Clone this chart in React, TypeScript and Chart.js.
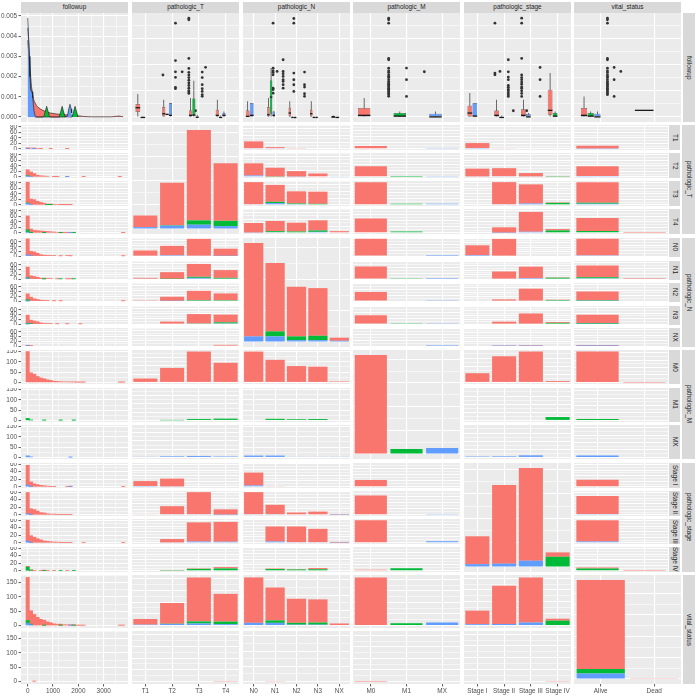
import React, { useEffect, useRef } from "react";
import { Chart, registerables } from "chart.js";

Chart.register(...registerables);

/* ================= categories ================= */
const varLabels = ["followup", "pathologic_T", "pathologic_N", "pathologic_M", "pathologic_stage", "vital_status"];
const levT = ["T1", "T2", "T3", "T4"];
const levN = ["N0", "N1", "N2", "N3", "NX"];
const levM = ["M0", "M1", "MX"];
const levS = ["Stage I", "Stage II", "Stage III", "Stage IV"];
const levV = ["Alive", "Dead"];
const mColors = ["#F8766D", "#00BA38", "#619CFF"];

/* ================= cross tabulations (counts split by M0 / M1 / MX) ================= */
// rows T1..T4, cols N0..NX
const tnM0 = [[20, 3, 1, 0, 0], [36, 26, 16, 10, 0], [65, 50, 36, 36, 0], [28, 30, 26, 30, 5]];
const tnM1 = [[0, 0, 0, 0, 0], [0, 1, 0, 0, 0], [0, 4, 2, 3, 0], [0, 3, 4, 4, 0]];
const tnMX = [[2, 2, 0, 0, 0], [4, 0, 1, 0, 2], [2, 5, 2, 0, 0], [1, 2, 0, 3, 0]];
// rows T1..T4, cols Stage I..IV
const tsM0 = [[22, 2, 0, 0], [35, 36, 15, 1], [0, 99, 86, 2], [0, 24, 89, 6]];
const tsM1 = [[0, 0, 0, 0], [0, 0, 0, 1], [0, 0, 0, 9], [0, 0, 0, 11]];
const tsMX = [[4, 0, 0, 0], [2, 3, 2, 0], [0, 3, 6, 0], [0, 1, 5, 0]];
// rows N0..NX, cols Stage I..IV
const nsM0 = [[55, 94, 0, 0], [3, 40, 64, 2], [0, 10, 67, 2], [0, 14, 57, 5], [0, 2, 3, 0]];
const nsM1 = [[0, 0, 0, 0], [0, 0, 0, 8], [0, 0, 0, 6], [0, 0, 0, 7], [0, 0, 0, 0]];
const nsMX = [[6, 3, 0, 0], [0, 3, 6, 0], [0, 0, 3, 0], [0, 0, 3, 0], [0, 1, 1, 0]];
// the single deceased patient
const deadT = "T4";
const deadN = "N1";
const deadM = "M0";
const deadS = "Stage IV";
const deadCount = 1;
const deadFollowup = 279;

/* ================= followup histograms (bins of 130 centred on 0,130,...) ================= */
const binWidth = 130;
const nBins = 30;
const histT_M0 = [
  [3, 3, 2, 2, 1, 0, 0, 1, 0, 0, 0, 0, 1],
  [22, 16, 12, 6, 4, 3, 2, 0, 1, 1, 0, 0, 1, 0, 0, 0, 0, 1, 0, 0, 0, 0, 0, 0, 0, 0, 0, 0, 1],
  [76, 19, 19, 13, 9, 6, 2, 2, 2, 2, 1, 1, 1, 1],
  [51, 13, 9, 8, 7, 5, 5, 4, 3, 2, 1, 1, 1, 1, 1, 0, 0, 0, 0, 0, 0, 0, 0, 0, 0, 0, 0, 0, 0, 1],
];
const histT_M1 = [[], [1], [2, 0, 0, 0, 0, 0, 1, 1], [8, 1, 0, 0, 0, 1, 0, 0, 0, 0, 1, 0, 0, 0, 1]];
const histT_MX = [[1, 0, 1], [3, 2, 0, 0, 0, 0, 0, 0, 0, 0, 0, 0, 1], [5, 2], [3, 0, 0, 0, 0, 0, 0, 0, 0, 0, 0, 0, 0, 1]];
const histN_M0 = [
  [68, 18, 18, 12, 6, 4, 3, 2, 2, 0, 1, 0, 2, 1, 0, 0, 0, 0, 0, 0, 0, 0, 0, 0, 0, 0, 0, 0, 0, 1],
  [45, 14, 11, 8, 4, 3, 2, 2, 0, 1, 0, 0, 1, 1],
  [25, 17, 10, 7, 4, 3, 2, 0, 1, 0, 1, 0, 0, 0, 0, 0, 0, 0, 0, 0, 0, 0, 0, 0, 0, 0, 0, 0, 0, 1],
  [34, 15, 13, 10, 5, 3, 2, 2, 0, 1, 0, 0, 1, 0, 0, 0, 1],
  [2, 3],
];
const histN_M1 = [[], [2, 0, 0, 0, 0, 1, 0, 0, 0, 0, 1, 0, 0, 0, 1], [5], [3, 2], []];
const histN_MX = [[5, 2], [4], [1], [1], [2]];
const histS_M0 = [
  [52, 12, 8, 6, 4, 3, 2, 1, 1, 0, 0, 0, 1, 1, 0, 0, 0, 0, 0, 0, 0, 0, 0, 0, 0, 0, 0, 0, 0, 1],
  [56, 15, 14, 10, 6, 5, 3, 2, 2, 1, 1, 1, 1, 1],
  [55, 18, 15, 11, 8, 5, 4, 3, 2, 2, 1, 1, 1, 1, 0, 0, 0, 1, 0, 0, 0, 0, 0, 0, 0, 0, 0, 0, 0, 1],
  [2, 1, 1, 0, 1, 1, 1, 0, 1, 0, 0, 0, 1],
];
const histS_M1 = [[], [], [], [10, 2, 0, 0, 0, 1, 0, 0, 0, 0, 1, 0, 0, 0, 1]];
const histS_MX = [[5, 1, 0, 0, 0, 0, 0, 0, 0, 0, 0, 0, 0, 1], [3, 1], [5, 1], []];
const histM0 = [150, 47, 40, 29, 22, 18, 13, 10, 6, 5, 4, 3, 3, 2, 2, 1, 1, 1, 0, 0, 0, 0, 0, 0, 0, 0, 0, 0, 1, 1];
const histM1 = [10, 2, 0, 0, 0, 1, 0, 0, 0, 0, 1, 0, 0, 0, 1];
const histMX = [8, 3, 0, 0, 0, 0, 0, 0, 0, 0, 0, 0, 0, 1];

/* ================= followup densities ================= */
const densX_M0 = [0, 50, 100, 150, 200, 250, 300, 350, 400, 500, 600, 750, 900, 1150, 1400, 1650, 1950, 2200, 2500, 3300, 3450, 3580, 3700, 3770];
const densY_M0 = [0.0044, 0.0036, 0.0023, 0.0015, 0.0011, 0.0008, 0.00068, 0.00057, 0.00049, 0.0004, 0.00033, 0.00025, 0.0002, 0.00015, 0.00012, 0.0001, 0.00007, 0.00003, 0.00001, 0.00001, 0.00003, 0.00005, 0.00003, 0.00002];
const densX_M1 = [0, 50, 100, 150, 200, 250, 300, 600, 650, 700, 750, 800, 850, 900, 1250, 1300, 1360, 1420, 1470, 1750, 1810, 1870, 1930, 1990];
const densY_M1 = [0.0038, 0.003, 0.0017, 0.0007, 0.0002, 0.00003, 0, 0, 0.00008, 0.0003, 0.00053, 0.0003, 0.00008, 0, 0, 0.00025, 0.00053, 0.00025, 0.00002, 0, 0.00025, 0.00053, 0.00025, 0];
const densX_MX = [0, 25, 60, 90, 120, 150, 175, 200, 225, 250, 290, 330, 400, 1500, 1570, 1620, 1670, 1720, 1736];
const densY_MX = [0.0049, 0.0043, 0.003, 0.002, 0.00135, 0.00125, 0.00125, 0.00095, 0.0006, 0.0003, 0.00007, 0.00001, 0, 0, 0.00005, 0.0004, 0.00063, 0.0004, 0.0002];

/* ================= followup boxplots: [lower, q1, median, q3, upper] ================= */
const boxT_M0 = [[0, 190, 380, 494, 880], [0, 25, 150, 380, 660], [0, 25, 90, 253, 720], [0, 25, 90, 280, 660]];
const boxT_M1 = [null, [127, 127, 127, 127, 127], [0, 50, 100, 710, 1380], [0, 0, 10, 30, 60]];
const boxT_MX = [[0, 0, 10, 20, 40], [0, 50, 90, 530, 530], [0, 0, 15, 40, 90], [0, 25, 90, 150, 215]];
const outT_M0 = [[1600], [1080, 1130, 1510, 1720, 2150, 3570], [900, 950, 1000, 1100, 1200, 1300, 1400, 1500, 1600, 1700, 1850, 2230, 3700, 3760], [790, 850, 975, 1080, 1230, 1500, 1710]];
const outT_M1 = [[], [], [], [1890]];
const outT_MX = [[], [1720], [240], []];

const boxN_M0 = [[0, 25, 50, 253, 600], [0, 25, 114, 380, 720], [0, 25, 177, 355, 600], [0, 25, 152, 280, 600], [0, 5, 20, 40, 60]];
const boxN_M1 = [null, [0, 127, 785, 1394, 1862], [0, 0, 10, 20, 30], [0, 0, 10, 20, 30], null];
const boxN_MX = [[0, 25, 90, 532, 532], [0, 25, 90, 215, 215], [0, 0, 5, 10, 10], [0, 0, 10, 20, 30], [0, 0, 10, 20, 30]];
const outN_M0 = [[910, 1040, 1100, 1610, 1700, 1760, 1860, 3573], [1100, 1230, 1355, 1420, 1546, 1650, 1736, 2180], [975, 1229, 1419, 1672, 3573, 3750], [790, 887, 1140, 1229, 1710], []];
const outN_M1 = [[], [], [], [], []];
const outN_MX = [[1736], [], [], [], []];

const boxM_M0 = [[0, 25, 90, 342, 722], null, null];
const boxM_M1 = [null, [0, 25, 60, 152, 215], null];
const boxM_MX = [null, null, [0, 0, 30, 127, 215]];
const outM_M0 = [[790, 850, 900, 950, 1000, 1050, 1100, 1150, 1200, 1250, 1300, 1350, 1420, 1500, 1550, 1610, 1700, 1760, 1860, 2180, 2230, 3573, 3700, 3763], [], []];
const outM_M1 = [[], [785, 1420, 1862], []];
const outM_MX = [[], [], [1723]];

const boxS_M0 = [[0, 25, 177, 430, 912], [0, 25, 90, 253, 660], [0, 25, 90, 300, 660], [0, 89, 279, 1039, 1672]];
const boxS_M1 = [null, null, null, [0, 0, 60, 152, 215]];
const boxS_MX = [[0, 0, 63, 532, 532], [0, 0, 10, 30, 60], [0, 0, 30, 114, 150], null];
const outS_M0 = [[1610, 1672, 3573], [785, 850, 920, 1000, 1050, 1130, 1200, 1420, 1520, 1720, 2180], [785, 900, 1000, 1100, 1150, 1250, 1330, 1420, 1500, 1600, 2230, 3573, 3763], []];
const outS_M1 = [[], [], [], [785, 1420, 1888]];
const outS_MX = [[1736], [240], [240], []];

const boxV_M0 = [[0, 25, 90, 342, 785], [279, 279, 279, 279, 279]];
const boxV_M1 = [[0, 25, 60, 152, 215], null];
const boxV_MX = [[0, 0, 30, 127, 215], null];
const outV_M0 = [[850, 900, 950, 1000, 1050, 1100, 1150, 1200, 1250, 1300, 1350, 1420, 1500, 1550, 1610, 1700, 1760, 1860, 2180, 2230, 3573, 3700, 3763], []];
const outV_M1 = [[785, 1420, 1888], []];
const outV_MX = [[1736], []];

/* ================= axis limits ================= */
const followupLim = [-264, 3960];
const boxLim = [-188.5, 3958.5];
const densLim = [-0.000245, 0.005145];

/* ================= derived tables ================= */
type Split = number[][][]; // [m][rowLevel][colLevel]
const LEVELS: Record<string, string[]> = { T: levT, N: levN, M: levM, S: levS, V: levV };
const KEYS = ["F", "T", "N", "M", "S", "V"];
const MI = [0, 1, 2];

const sum = (a: number[]) => a.reduce((p, q) => p + q, 0);
const transpose = (s: Split): Split => s.map((mat) => mat[0].map((_, j) => mat.map((row) => row[j])));
const rowSums = (s: Split) => s.map((mat) => mat.map((row) => sum(row)));
const colSums = (s: Split) => rowSums(transpose(s));
const nz = (v: number) => (v > 0 ? v : null);

const TN: Split = [tnM0, tnM1, tnMX];
const TS: Split = [tsM0, tsM1, tsMX];
const NS: Split = [nsM0, nsM1, nsMX];
const deadMi = levM.indexOf(deadM);
const deadLevel: Record<string, number> = {
  T: levT.indexOf(deadT), N: levN.indexOf(deadN), M: deadMi, S: levS.indexOf(deadS),
};
const margins: Record<string, number[][]> = {};
margins.T = rowSums(TN);
margins.N = colSums(TN);
margins.S = colSums(TS);
const mTot = margins.T.map((r) => sum(r));
margins.M = MI.map((m) => MI.map((j) => (j === m ? mTot[m] : 0)));
margins.V = MI.map((m) => [mTot[m] - (m === deadMi ? deadCount : 0), m === deadMi ? deadCount : 0]);

const withM = (marg: number[][]): Split => MI.map((m) => marg[m].map((v) => MI.map((j) => (j === m ? v : 0))));
const withV = (key: string): Split =>
  MI.map((m) => margins[key][m].map((v, a) => {
    const d = m === deadMi && a === deadLevel[key] ? deadCount : 0;
    return [v - d, d];
  }));
function pair(a: string, b: string): Split {
  const base: Record<string, () => Split> = {
    TN: () => TN, TS: () => TS, NS: () => NS,
    TM: () => withM(margins.T), NM: () => withM(margins.N), SM: () => withM(margins.S),
    TV: () => withV("T"), NV: () => withV("N"), MV: () => withV("M"), SV: () => withV("S"),
  };
  if (base[a + b]) return base[a + b]();
  return transpose(base[b + a]());
}
const pad = (a: number[]) => Array.from({ length: nBins }, (_, k) => a[k] ?? 0);
function histFacets(key: string): number[][][] {
  if (key === "T") return levT.map((_, i) => [pad(histT_M0[i]), pad(histT_M1[i]), pad(histT_MX[i])]);
  if (key === "N") return levN.map((_, i) => [pad(histN_M0[i]), pad(histN_M1[i]), pad(histN_MX[i])]);
  if (key === "S") return levS.map((_, i) => [pad(histS_M0[i]), pad(histS_M1[i]), pad(histS_MX[i])]);
  const hm = [pad(histM0), pad(histM1), pad(histMX)];
  if (key === "M") return MI.map((j) => MI.map((m) => (m === j ? hm[m] : pad([]))));
  const deadBin = Math.round(deadFollowup / binWidth);
  const deadArr = pad([]).map((_, k) => (k === deadBin ? deadCount : 0));
  const alive = hm.map((arr, m) => (m === deadMi ? arr.map((v, k) => v - deadArr[k]) : arr));
  const dead = MI.map((m) => (m === deadMi ? deadArr : pad([])));
  return [alive, dead];
}
const BOX: Record<string, any[][]> = {
  T: [boxT_M0, boxT_M1, boxT_MX], N: [boxN_M0, boxN_M1, boxN_MX], M: [boxM_M0, boxM_M1, boxM_MX],
  S: [boxS_M0, boxS_M1, boxS_MX], V: [boxV_M0, boxV_M1, boxV_MX],
};
const OUT: Record<string, number[][][]> = {
  T: [outT_M0, outT_M1, outT_MX], N: [outN_M0, outN_M1, outN_MX], M: [outM_M0, outM_M1, outM_MX],
  S: [outS_M0, outS_M1, outS_MX], V: [outV_M0, outV_M1, outV_MX],
};

/* ================= chart helpers ================= */
const FONT = '"Liberation Sans", Arial, Helvetica, sans-serif';
const PANEL_BG = "#EBEBEB";
const STRIP_BG = "#D9D9D9";
const TICK_FONT = { family: FONT, size: 6.4 };

const bgPlugin = {
  id: "panelBg",
  beforeDraw(chart: any) {
    const { ctx, chartArea: a } = chart;
    ctx.save();
    ctx.fillStyle = PANEL_BG;
    ctx.fillRect(a.left, a.top, a.right - a.left, a.bottom - a.top);
    ctx.restore();
  },
};

function breaksFor(lo: number, hi: number) {
  const span = hi - lo;
  const Q = [1, 5, 2, 2.5];
  let best = 1;
  let bestScore = Infinity;
  const e0 = Math.floor(Math.log10(span));
  for (let e = e0 - 2; e <= e0 + 1; e++) {
    Q.forEach((q, qi) => {
      const step = q * Math.pow(10, e);
      const a = Math.ceil(lo / step - 1e-9);
      const b = Math.floor(hi / step + 1e-9);
      const n = b - a + 1;
      const score = Math.abs(n - 5) + qi * 0.01 + (n < 2 ? 10 : 0);
      if (score < bestScore) { bestScore = score; best = step; }
    });
  }
  const major: number[] = [];
  const minor: number[] = [];
  for (let k = Math.ceil(lo / best - 1e-9); k * best <= hi + 1e-9; k++) major.push(+(k * best).toPrecision(12));
  for (let k = Math.floor(lo / best) - 1; (k + 0.5) * best <= hi; k++) {
    const v = (k + 0.5) * best;
    if (v >= lo) minor.push(+v.toPrecision(12));
  }
  return { major, minor };
}

function yAxes(lim: number[], padL: number, fmt: (v: number) => string, stacked: boolean) {
  const { major, minor } = breaksFor(lim[0], lim[1]);
  const show = padL > 0;
  return {
    y: {
      type: "linear", min: lim[0], max: lim[1], position: "left", stacked,
      afterBuildTicks: (s: any) => { s.ticks = major.map((value) => ({ value })); },
      afterFit: (s: any) => { s.width = padL; s.paddingTop = 0; s.paddingBottom = 0; },
      grid: { color: "#FFFFFF", lineWidth: 1.1, drawTicks: show, tickLength: 2.5, tickColor: "#333333", tickWidth: 0.8 },
      border: { display: false },
      ticks: { display: show, autoSkip: false, padding: 1.5, color: "#4D4D4D", font: TICK_FONT, callback: (v: any) => fmt(Number(v)) },
    },
    yMinor: {
      type: "linear", min: lim[0], max: lim[1], position: "left",
      afterBuildTicks: (s: any) => { s.ticks = minor.map((value) => ({ value })); },
      afterFit: (s: any) => { s.width = 0; s.paddingTop = 0; s.paddingBottom = 0; },
      grid: { color: "#FFFFFF", lineWidth: 0.55, drawTicks: false },
      border: { display: false },
      ticks: { display: false },
    },
  };
}

function xLin(lim: number[], padB: number) {
  const { major, minor } = breaksFor(lim[0], lim[1]);
  const show = padB > 0;
  return {
    x: {
      type: "linear", min: lim[0], max: lim[1], offset: false, stacked: true, position: "bottom",
      afterBuildTicks: (s: any) => { s.ticks = major.map((value) => ({ value })); },
      afterFit: (s: any) => { s.height = padB; s.paddingLeft = 0; s.paddingRight = 0; },
      grid: { offset: false, color: "#FFFFFF", lineWidth: 1.1, drawTicks: show, tickLength: 2.5, tickColor: "#333333", tickWidth: 0.8 },
      border: { display: false },
      ticks: { display: show, autoSkip: false, padding: 1, color: "#4D4D4D", font: TICK_FONT, maxRotation: 0, callback: (v: any) => String(v) },
    },
    xMinor: {
      type: "linear", min: lim[0], max: lim[1], position: "bottom",
      afterBuildTicks: (s: any) => { s.ticks = minor.map((value) => ({ value })); },
      afterFit: (s: any) => { s.height = 0; s.paddingLeft = 0; s.paddingRight = 0; },
      grid: { color: "#FFFFFF", lineWidth: 0.55, drawTicks: false },
      border: { display: false },
      ticks: { display: false },
    },
  };
}

function xCat(labels: string[], padB: number, stacked?: boolean) {
  const show = padB > 0;
  return {
    type: "category", labels, offset: true, stacked, position: "bottom",
    grid: { offset: false, color: "#FFFFFF", lineWidth: 1.1, drawTicks: show, tickLength: 2.5, tickColor: "#333333", tickWidth: 0.8 },
    border: { display: false },
    ticks: { display: show, padding: 1, color: "#4D4D4D", font: TICK_FONT, maxRotation: 0, minRotation: 0, autoSkip: false },
    afterFit: (s: any) => { s.height = padB; s.paddingLeft = 0; s.paddingRight = 0; },
  };
}

function baseOptions(scales: any) {
  return {
    responsive: false, animation: false, devicePixelRatio: 1, events: [],
    layout: { padding: 0, autoPadding: false },
    plugins: { legend: { display: false }, tooltip: { enabled: false }, title: { display: false } },
    scales,
  };
}
const intFmt = (v: number) => String(v);

function densityConfig(padL: number, padB: number) {
  const xs = [densX_M0, densX_M1, densX_MX];
  const ys = [densY_M0, densY_M1, densY_MX];
  return {
    type: "line",
    data: {
      datasets: [2, 1, 0].map((m) => ({
        data: xs[m].map((x, i) => ({ x, y: ys[m][i] })),
        fill: "origin", backgroundColor: mColors[m], borderColor: "#1A1A1A", borderWidth: 0.6,
        pointRadius: 0, tension: 0,
      })),
    },
    options: baseOptions({ ...xLin(followupLim, padB), ...yAxes(densLim, padL, (v) => v.toFixed(3), false) }),
    plugins: [bgPlugin],
  };
}

function boxConfig(key: string, padL: number, padB: number) {
  const labels = LEVELS[key];
  const boxes = BOX[key];
  const outs = OUT[key];
  const n = labels.length;
  const CP = 0.75;
  const BP = 0.93;
  const groups = MI.filter((m) => boxes[m].some((b: any) => b));
  const common = (m: number) => ({ type: "bar", stack: "g" + m, skipNull: true, categoryPercentage: CP, barPercentage: BP, borderWidth: 0, inflateAmount: 0 });
  const med = groups.map((m) => ({ ...common(m), data: boxes[m].map((b: any) => (b ? [b[2], b[2]] : null)), backgroundColor: "#1A1A1A", minBarLength: 1.3 }));
  const box = groups.map((m) => ({ ...common(m), data: boxes[m].map((b: any) => (b ? [b[1], b[3]] : null)), backgroundColor: mColors[m], borderColor: "#333333", borderWidth: 0.5, borderSkipped: false }));
  const whisk = groups.map((m) => ({ ...common(m), data: boxes[m].map((b: any) => (b ? [b[0], b[4]] : null)), backgroundColor: "#333333", maxBarThickness: 0.7 }));
  const pts = groups.map((m) => ({
    type: "scatter", xAxisID: "xo",
    data: outs[m].flatMap((vals, i) => {
      const present = MI.filter((g) => boxes[g][i]);
      const k = present.length;
      const j = present.indexOf(m);
      const off = -CP / 2 + (CP / k) * (j + 0.5);
      return vals.map((v) => ({ x: i + off, y: v }));
    }),
    pointRadius: 1.4, backgroundColor: "#333333", borderWidth: 0,
  }));
  return {
    type: "bar",
    data: { labels, datasets: [...med, ...box, ...whisk, ...pts] },
    options: baseOptions({
      x: xCat(labels, padB),
      xo: { type: "linear", min: -0.5, max: n - 0.5, display: false },
      ...yAxes(boxLim, padL, intFmt, false),
    }),
    plugins: [bgPlugin],
  };
}

function barConfig(labels: string[], data3: number[][], yTop: number, padL: number, padB: number) {
  const lim = [-0.05 * yTop, 1.05 * yTop];
  return {
    type: "bar",
    data: {
      labels,
      datasets: [2, 1, 0].map((m) => ({ data: data3[m].map(nz), backgroundColor: mColors[m], borderWidth: 0, categoryPercentage: 0.9, barPercentage: 1 })),
    },
    options: baseOptions({ x: xCat(labels, padB, true), ...yAxes(lim, padL, intFmt, true) }),
    plugins: [bgPlugin],
  };
}

function histConfig(h3: number[][], yTop: number, padL: number, padB: number) {
  const lim = [-0.05 * yTop, 1.05 * yTop];
  return {
    type: "bar",
    data: {
      datasets: [2, 1, 0].map((m) => ({
        data: h3[m].map((y, k) => ({ x: k * binWidth, y: nz(y) })),
        backgroundColor: mColors[m], borderWidth: 0, categoryPercentage: 1, barPercentage: 1,
      })),
    },
    options: baseOptions({ ...xLin(followupLim, padB), ...yAxes(lim, padL, intFmt, true) }),
    plugins: [bgPlugin],
  };
}

/* ================= layout ================= */
const COL_X = [21, 132, 243, 353, 464, 574];
const ROW_Y = [13, 125, 238, 350, 463, 575];
const PW = 107;
const PH = 109;
const FGAP = 3.5;
const NARROW = 94;
const AXIS_W = 21;
const AXIS_H = 12;

interface Spec { key: string; x: number; y: number; w: number; h: number; cfg: () => any }
interface StripDef { x: number; y: number; w: number; h: number; text: string; vertical: boolean }

const SPECS: Spec[] = [];
const STRIPS: StripDef[] = [];

function addChart(key: string, ax: number, ay: number, aw: number, ah: number, padL: number, padB: number, make: (l: number, b: number) => any) {
  const x0 = Math.round(ax);
  const y0 = Math.round(ay);
  const x1 = Math.round(ax + aw);
  const y1 = Math.round(ay + ah);
  SPECS.push({ key, x: x0 - padL, y: y0, w: x1 - x0 + padL, h: y1 - y0 + padB, cfg: () => make(padL, padB) });
}

varLabels.forEach((t, c) => STRIPS.push({ x: COL_X[c], y: 2, w: PW, h: 11, text: t, vertical: false }));

for (let r = 0; r < 6; r++) {
  const rk = KEYS[r];
  const bottom = r === 5;
  if (r === 0 || r === 5) {
    STRIPS.push({ x: 683, y: ROW_Y[r], w: 12, h: PH, text: varLabels[r], vertical: true });
  } else {
    STRIPS.push({ x: 682, y: ROW_Y[r], w: 13, h: PH, text: varLabels[r], vertical: true });
    const F = LEVELS[rk].length;
    const fh = (PH - (F - 1) * FGAP) / F;
    LEVELS[rk].forEach((lv, i) => STRIPS.push({ x: 669, y: ROW_Y[r] + i * (fh + FGAP), w: 11, h: fh, text: lv, vertical: true }));
  }
  for (let c = 0; c < 6; c++) {
    const ck = KEYS[c];
    const padL = c === 0 ? AXIS_W : 0;
    const w = c === 5 && r >= 1 && r <= 4 ? NARROW : PW;
    if (r === 0) {
      if (c === 0) addChart("dens", COL_X[c], ROW_Y[r], w, PH, padL, 0, densityConfig);
      else addChart("box" + ck, COL_X[c], ROW_Y[r], w, PH, padL, 0, (l, b) => boxConfig(ck, l, b));
      continue;
    }
    if (c === r) {
      const data3 = margins[rk];
      const yTop = Math.max(...LEVELS[rk].map((_, j) => sum(MI.map((m) => data3[m][j]))));
      addChart("diag" + rk, COL_X[c], ROW_Y[r], w, PH, padL, bottom ? AXIS_H : 0, (l, b) => barConfig(LEVELS[rk], data3, yTop, l, b));
      continue;
    }
    const F = LEVELS[rk].length;
    const fh = (PH - (F - 1) * FGAP) / F;
    if (c === 0) {
      const facets = histFacets(rk);
      const yTop = Math.max(...facets.map((h3) => Math.max(...h3[0].map((_, k) => sum(MI.map((m) => h3[m][k]))))));
      facets.forEach((h3, i) => {
        const pb = bottom && i === F - 1 ? AXIS_H : 0;
        addChart("hist" + rk + i, COL_X[c], ROW_Y[r] + i * (fh + FGAP), w, fh, padL, pb, (l, b) => histConfig(h3, yTop, l, b));
      });
    } else {
      const split = pair(rk, ck);
      let yTop = 0;
      split[0].forEach((row, i) => row.forEach((_, j) => { yTop = Math.max(yTop, sum(MI.map((m) => split[m][i][j]))); }));
      LEVELS[rk].forEach((_, i) => {
        const pb = bottom && i === F - 1 ? AXIS_H : 0;
        const data3 = MI.map((m) => split[m][i]);
        addChart("fb" + rk + ck + i, COL_X[c], ROW_Y[r] + i * (fh + FGAP), w, fh, padL, pb, (l, b) => barConfig(LEVELS[ck], data3, yTop, l, b));
      });
    }
  }
}

/* ================= components ================= */
function PanelChart({ spec }: { spec: Spec }) {
  const ref = useRef<HTMLCanvasElement | null>(null);
  useEffect(() => {
    if (!ref.current) return;
    const chart = new Chart(ref.current, spec.cfg() as any);
    return () => chart.destroy();
  }, [spec]);
  return (
    <canvas
      ref={ref}
      width={spec.w}
      height={spec.h}
      style={{ position: "absolute", left: spec.x, top: spec.y, width: spec.w, height: spec.h }}
    />
  );
}

export default function App() {
  return (
    <div style={{ position: "absolute", left: 0, top: 0, width: 696, height: 696, background: "#FFFFFF", overflow: "hidden", fontFamily: FONT }}>
      {STRIPS.map((s, i) => (
        <div
          key={"s" + i}
          style={{
            position: "absolute", left: s.x, top: s.y, width: s.w, height: s.h, background: STRIP_BG,
            color: "#1A1A1A", fontSize: 6.4, lineHeight: 1, display: "flex", alignItems: "center",
            justifyContent: "center", whiteSpace: "nowrap", overflow: "hidden",
            writingMode: s.vertical ? "vertical-rl" : "horizontal-tb",
          }}
        >
          {s.text}
        </div>
      ))}
      {SPECS.map((s) => (
        <PanelChart key={s.key} spec={s} />
      ))}
    </div>
  );
}
